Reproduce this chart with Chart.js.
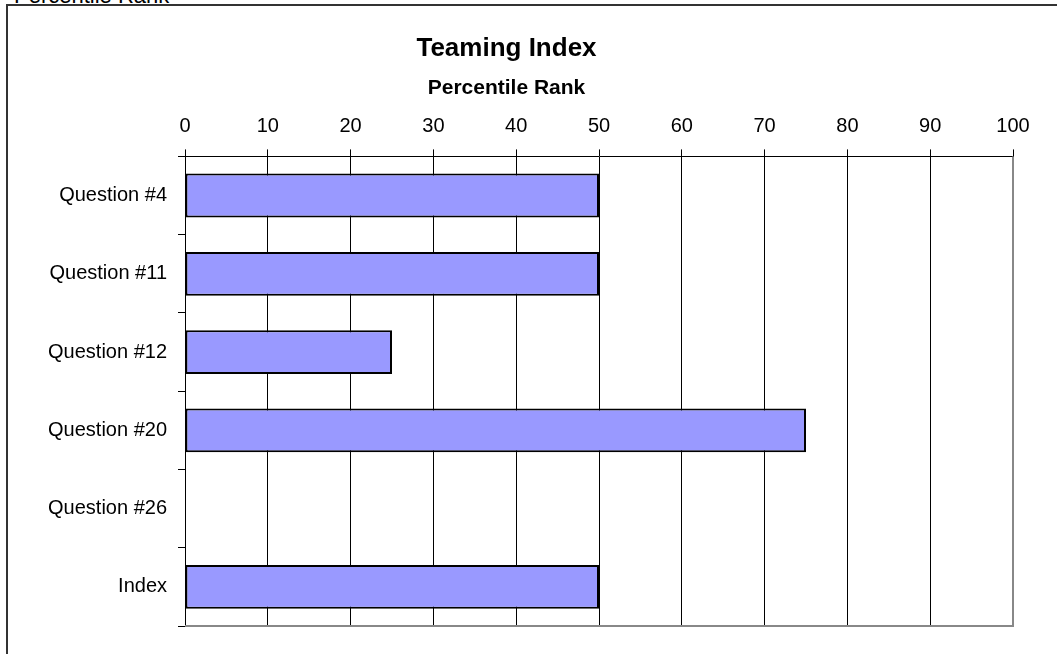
<!DOCTYPE html>
<html lang="en">

<head>
  <meta charset="UTF-8" />
  <title>Teaming Index</title>
  <script src="https://cdn.jsdelivr.net/npm/chart.js"></script>
  <style>
    body { margin: 0; overflow: hidden; background: #fff; font-family: "Liberation Sans", Arial, sans-serif; }
    #topLabel { position: absolute; left: 14px; top: -15px; font-size: 22px; line-height: 22px; color: #000; white-space: nowrap; }
    #frame { position: absolute; left: 6px; top: 4px; width: 1200px; height: 800px; border: 2px solid #333; }
    #chart { position: absolute; left: 0; top: 0; }
  </style>
</head>

<body>
  <div id="topLabel">Percentile Rank</div>
  <div id="frame"></div>
  <canvas id="chart" width="1057" height="654"></canvas>

  <script>
    // data
    const questions = ['Question #4', 'Question #11', 'Question #12', 'Question #20', 'Question #26', 'Index'];
    const percentileRank = [50, 50, 25, 75, null, 50];
    const rankMin = 0;
    const rankMax = 100;
    const rankStep = 10;

    // gray border on right/bottom of the plot area
    const plotBorder = {
      id: 'plotBorder',
      afterDraw(chart) {
        const { ctx, chartArea: a } = chart;
        ctx.save();
        ctx.strokeStyle = '#888';
        ctx.lineWidth = 2;
        ctx.beginPath();
        ctx.moveTo(a.right, a.top);
        ctx.lineTo(a.right, a.bottom);
        ctx.lineTo(a.left, a.bottom);
        ctx.stroke();
        ctx.restore();
      }
    };

    Chart.defaults.font.family = '"Liberation Sans", Arial, sans-serif';
    Chart.defaults.color = '#000';

    new Chart(document.getElementById('chart'), {
      type: 'bar',
      data: {
        labels: questions,
        datasets: [{
          label: 'Percentile Rank',
          data: percentileRank,
          backgroundColor: '#9999FF',
          borderColor: '#000',
          borderWidth: 2,
          borderSkipped: false,
          categoryPercentage: 1,
          barPercentage: 0.56
        }]
      },
      options: {
        indexAxis: 'y',
        responsive: false,
        animation: false,
        layout: { padding: { left: 0, right: 44, top: 0, bottom: 28 } },
        plugins: {
          legend: { display: false },
          tooltip: { enabled: false },
          title: {
            display: true,
            text: 'Teaming Index',
            font: { size: 26, weight: 'bold' },
            padding: { top: 33, bottom: 0 }
          },
          subtitle: {
            display: true,
            text: 'Percentile Rank',
            font: { size: 21, weight: 'bold' },
            padding: { top: 11, bottom: 0 }
          }
        },
        scales: {
          x: {
            position: 'top',
            min: rankMin,
            max: rankMax,
            ticks: { stepSize: rankStep, font: { size: 20 }, padding: 11 },
            grid: { color: '#000', lineWidth: 1, tickLength: 7 },
            border: { color: '#000', width: 1 },
            afterFit(scale) { scale.height = 56; }
          },
          y: {
            ticks: { font: { size: 20 }, padding: 11 },
            grid: { offset: true, drawOnChartArea: false, color: '#000', tickLength: 7 },
            border: { color: '#000', width: 1 },
            afterFit(scale) { scale.width = 185; }
          }
        }
      },
      plugins: [plotBorder]
    });
  </script>
</body>

</html>
